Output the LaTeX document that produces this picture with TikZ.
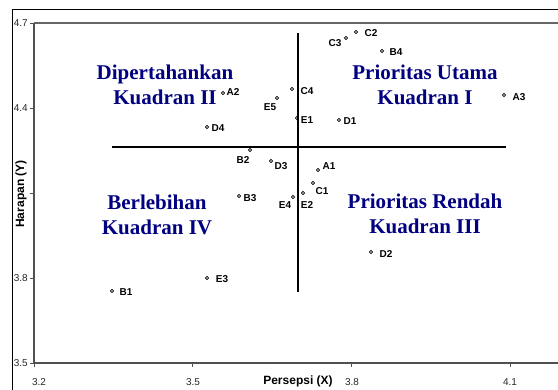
\documentclass[tikz,border=0pt]{standalone}
\usepackage{fontspec}
\setmainfont{Liberation Serif}
\newfontfamily\arialf{Liberation Sans}
\definecolor{navyq}{RGB}{0,0,128}
\definecolor{axisgray}{RGB}{80,80,80}
\begin{document}
\begin{tikzpicture}[x=1pt,y=-1pt,
  pt/.style={circle,draw=black,line width=0.6pt,minimum size=3.2pt,inner sep=0pt},
  plab/.style={font=\arialf\bfseries\fontsize{10}{10}\selectfont,inner sep=0pt},
  tlab/.style={font=\arialf\fontsize{10}{10}\selectfont,inner sep=0pt,text=black!85},
  qlab/.style={font=\bfseries\fontsize{21}{25}\selectfont,text=navyq,align=center,inner sep=0pt},
  alab/.style={font=\arialf\bfseries\fontsize{12}{12}\selectfont,inner sep=0pt},
  qline/.style={line width=2.4pt,black},
  axline/.style={line width=1.8pt,axisgray},
  tick/.style={line width=0.8pt,axisgray}]
\useasboundingbox (0,0) rectangle (558,390);
% outer frame
\draw[line width=1pt] (12,395) -- (12,10) -- (565,10);
% plot area
\draw[line width=2pt,gray!80!black] (34,23) -- (565,23);
\draw[axline] (34,23) -- (34,363) -- (565,363);
% y ticks
\foreach \y/\t in {23/4.7,108/4.4,193/4.1,278/3.8,363/3.5}{
  \draw[tick] (30,\y) -- (34,\y);
  \node[tlab,anchor=east] at (28,\y) {\t};
}
% x ticks
\foreach \x/\t in {34/3.2,192.5/3.5,351/3.8,510/4.1}{
  \draw[tick] (\x,363) -- (\x,367);
}
\node[tlab] at (39,382) {3.2};
\node[tlab] at (193,382) {3.5};
\node[tlab] at (352,382) {3.8};
\node[tlab] at (510,382) {4.1};
% axis titles
\node[alab] (xt) at (298,381) {Persepsi (X)};
\node[alab,rotate=90,fill=white,inner sep=1pt] (yt) at (21,194) {Harapan (Y)};
% quadrant lines
\coordinate (hl) at (112,147);
\coordinate (hr) at (506,147);
\coordinate (vt) at (298,33);
\coordinate (vb) at (298,292);
\draw[qline] (hl) -- (hr);
\draw[qline] (vt) -- (vb);
% quadrant labels
\node[qlab] (q2) at (165,85) {Dipertahankan\\Kuadran II};
\node[qlab] (q1) at (425,85) {Prioritas Utama\\Kuadran I};
\node[qlab] (q4) at (157,215) {Berlebihan\\Kuadran IV};
\node[qlab] (q3) at (425,214) {Prioritas Rendah\\Kuadran III};
% points
\node[pt] (C2) at (356,32) {};  \node[plab] (lC2) at (371,33) {C2};
\node[pt] (C3) at (346,38) {};  \node[plab] (lC3) at (335,43) {C3};
\node[pt] (B4) at (382,51) {};  \node[plab] (lB4) at (396,52) {B4};
\node[pt] (C4) at (292,89) {};  \node[plab] (lC4) at (307,91) {C4};
\node[pt] (E1) at (297,118) {}; \node[plab] (lE1) at (307,120) {E1};
\node[pt] (D1) at (339,120) {}; \node[plab] (lD1) at (350,121) {D1};
\node[pt] (A3) at (504,95) {};  \node[plab] (lA3) at (519,97) {A3};
\node[pt] (A1) at (318,170) {}; \node[plab] (lA1) at (329,166) {A1};
\node[pt] (C1) at (313,183) {}; \node[plab] (lC1) at (322,191) {C1};
\node[pt] (E2) at (303,193) {}; \node[plab] (lE2) at (307,205) {E2};
\node[pt] (E4) at (293,197) {}; \node[plab] (lE4) at (285,205) {E4};
\node[pt] (A2) at (223,93) {};  \node[plab] (lA2) at (233,92) {A2};
\node[pt] (E5) at (277,98) {};  \node[plab] (lE5) at (270,107) {E5};
\node[pt] (D4) at (207,127) {}; \node[plab] (lD4) at (218,128) {D4};
\node[pt] (B2) at (250,150) {}; \node[plab] (lB2) at (243,160) {B2};
\node[pt] (D3) at (271,161) {}; \node[plab] (lD3) at (281,166) {D3};
\node[pt] (B3) at (239,196) {}; \node[plab] (lB3) at (250,198) {B3};
\node[pt] (D2) at (371,252) {}; \node[plab] (lD2) at (386,254) {D2};
\node[pt] (E3) at (207,278) {}; \node[plab] (lE3) at (222,279) {E3};
\node[pt] (B1) at (112,291) {};  \node[plab] (lB1) at (126,292) {B1};
\end{tikzpicture}
\end{document}
